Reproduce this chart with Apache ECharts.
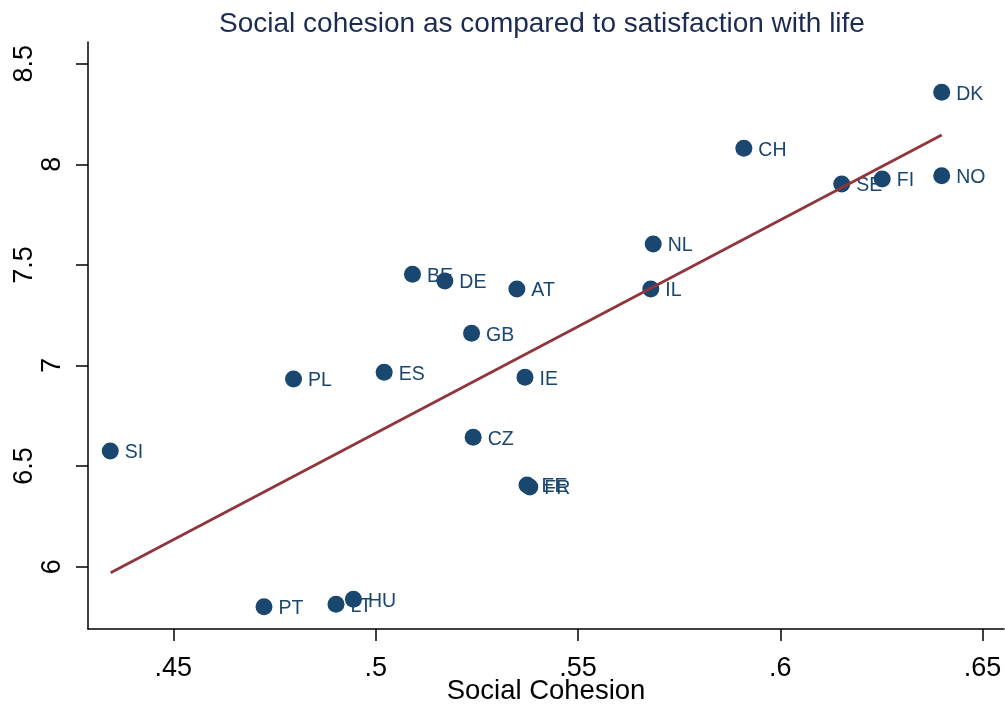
<!DOCTYPE html>
<html>
<head>
<meta charset="utf-8">
<script src="https://cdn.jsdelivr.net/npm/echarts@6/dist/echarts.min.js"></script>
<style>html,body{margin:0;padding:0;background:#fff}#c{width:1005px;height:706px}</style>
</head>
<body>
<div id="c"></div>
<script>
const titleText = 'Social cohesion as compared to satisfaction with life';
const xAxisTitle = 'Social Cohesion';
const codes = ['SI','PT','PL','LT','HU','ES','BE','DE','GB','CZ','AT','IE','EE','FR','IL','NL','CH','SE','FI','DK','NO'];
const cohesion = [0.4344,0.4724,0.4797,0.4902,0.4945,0.5021,0.5091,0.5171,0.5237,0.5241,0.5349,0.5369,0.5374,0.5381,0.5680,0.5686,0.5910,0.6152,0.6252,0.6399,0.6399];
const satisfaction = [6.575,5.801,6.933,5.813,5.838,6.966,7.453,7.420,7.160,6.643,7.380,6.941,6.406,6.396,7.380,7.604,8.080,7.902,7.927,8.358,7.943];
const fitX = [0.4345, 0.6399];
const fitY = [5.970, 8.146];
const xTicks = [0.45, 0.5, 0.55, 0.6, 0.65];
const xTickLabels = ['.45', '.5', '.55', '.6', '.65'];
const yTicks = [6, 6.5, 7, 7.5, 8, 8.5];
const yTickLabels = ['6', '6.5', '7', '7.5', '8', '8.5'];

const NAVY = '#1a476f';
const FONT = '"Liberation Sans", Arial, sans-serif';

function labelFor(ticks, labels, v) {
  for (let i = 0; i < ticks.length; i++) if (Math.abs(ticks[i] - v) < 1e-6) return labels[i];
  return '';
}

const series = codes.map((c, i) => ({
  type: 'scatter',
  z: 3 + i,
  symbol: 'circle',
  symbolSize: 17,
  itemStyle: { color: NAVY, opacity: 1 },
  label: {
    show: true,
    position: 'right',
    distance: 6,
    formatter: c,
    color: NAVY,
    opacity: 1,
    fontFamily: FONT,
    fontSize: 19.5,
    offset: [0, 2]
  },
  emphasis: { disabled: true },
  data: [[cohesion[i], satisfaction[i]]]
}));
series.push({
  type: 'line',
  z: 100,
  symbol: 'none',
  lineStyle: { color: '#90353b', width: 2.8 },
  data: fitX.map((x, i) => [x, fitY[i]])
});

const chart = echarts.init(document.getElementById('c'), null, { renderer: 'canvas' });
chart.setOption({
  animation: false,
  backgroundColor: '#ffffff',
  title: {
    text: titleText,
    left: 537,
    textAlign: 'center',
    top: 5,
    textStyle: { color: '#1c2b52', fontFamily: FONT, fontSize: 28, fontWeight: 'normal' }
  },
  grid: { left: 88, right: 1, top: 42, bottom: 77, containLabel: false, outerBoundsMode: 'none' },
  xAxis: {
    type: 'value',
    min: 0.4289,
    max: 0.6553,
    name: xAxisTitle,
    nameLocation: 'middle',
    nameGap: 48,
    nameMoveOverlap: false,
    nameTextStyle: { color: '#000', fontFamily: FONT, fontSize: 27.5 },
    splitLine: { show: false },
    axisLine: { show: true, onZero: false, lineStyle: { color: '#000', width: 1.5 } },
    axisTick: { show: true, length: 12, inside: false, customValues: xTicks, lineStyle: { color: '#000', width: 1.5 } },
    axisLabel: {
      customValues: xTicks,
      margin: 26,
      color: '#000',
      fontFamily: FONT,
      fontSize: 27,
      formatter: v => labelFor(xTicks, xTickLabels, v)
    }
  },
  yAxis: {
    type: 'value',
    min: 5.690,
    max: 8.608,
    splitLine: { show: false },
    axisLine: { show: true, onZero: false, lineStyle: { color: '#000', width: 1.5 } },
    axisTick: { show: true, length: 12, inside: false, customValues: yTicks, lineStyle: { color: '#000', width: 1.5 } },
    axisLabel: {
      customValues: yTicks,
      rotate: 90,
      margin: 22,
      color: '#000',
      fontFamily: FONT,
      fontSize: 27,
      formatter: v => {
        const s = labelFor(yTicks, yTickLabels, v);
        return s.indexOf('.') >= 0 ? '{w|' + s + '}' : '{n|' + s + '}';
      },
      rich: {
        w: { fontFamily: FONT, fontSize: 27, color: '#000', lineHeight: 27, padding: [0, 0, 56, 0] },
        n: { fontFamily: FONT, fontSize: 27, color: '#000', lineHeight: 27 }
      }
    }
  },
  series: series
});
</script>
</body>
</html>
